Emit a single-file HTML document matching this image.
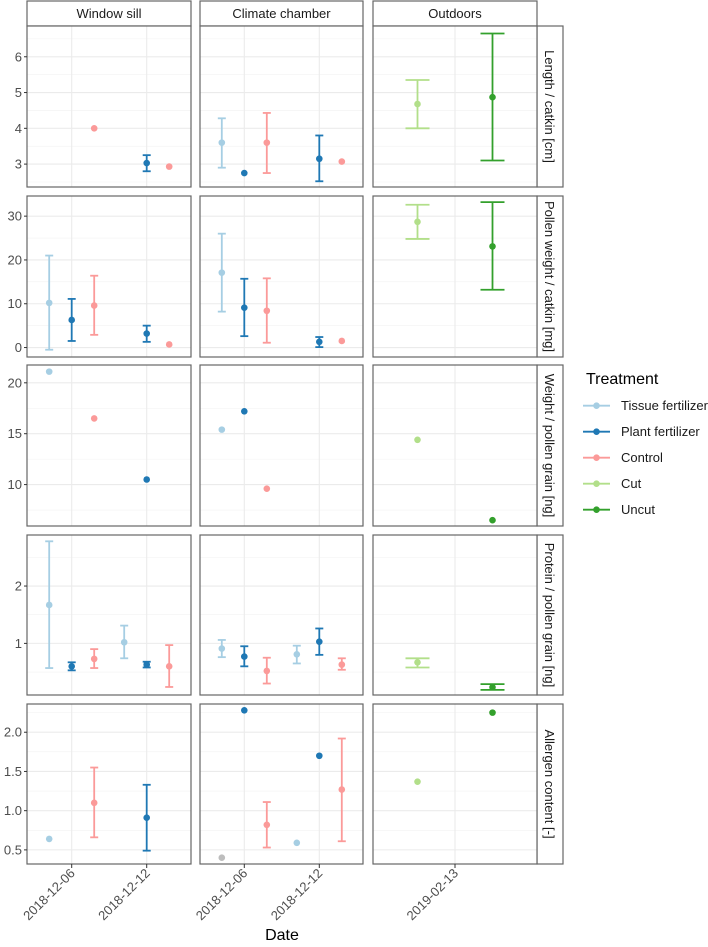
<!DOCTYPE html>
<html><head><meta charset="utf-8">
<style>
html,body{margin:0;padding:0;background:#fff;}
svg{display:block;font-family:"Liberation Sans",Arial,sans-serif;}
</style></head>
<body>
<svg id="chart" width="708" height="947" viewBox="0 0 708 947"></svg>
<script>
// ---- data ----
const sites = ["Window sill", "Climate chamber", "Outdoors"];
const measures = ["Length / catkin [cm]", "Pollen weight / catkin [mg]", "Weight / pollen grain [ng]", "Protein / pollen grain [ng]", "Allergen content [-]"];
const treatments = ["Tissue fertilizer", "Plant fertilizer", "Control", "Cut", "Uncut"];
const treatmentColors = ["#a6cee3", "#1f78b4", "#fb9a99", "#b2df8a", "#33a02c", "#bdbdbd"];
// day offsets from reference date of each site (2018-12-06 / 2019-02-13)
const xTickLabels = [["2018-12-06", "2018-12-12"], ["2018-12-06", "2018-12-12"], ["2019-02-13"]];
const xTickDays = [[0, 6], [0, 6], [0]];
const yTicks = [[3, 4, 5, 6], [0, 10, 20, 30], [10, 15, 20], [1, 2], [0.5, 1.0, 1.5, 2.0]];
const yTickLabels = [["3","4","5","6"], ["0","10","20","30"], ["10","15","20"], ["1","2"], ["0.5","1.0","1.5","2.0"]];
const yDomains = [[2.36, 6.86], [-2.16, 34.6], [5.93, 21.75], [0.1, 2.89], [0.32, 2.36]];
// records: [measure, site, day, treatment index, mean, low, high]
const lengthData = [
  [0,0,1.8,2,4.0,null,null],[0,0,6,1,3.03,2.8,3.25],[0,0,7.8,2,2.93,null,null],
  [0,1,-1.8,0,3.6,2.9,4.28],[0,1,0,1,2.75,null,null],[0,1,1.8,2,3.6,2.75,4.43],[0,1,6,1,3.15,2.52,3.8],[0,1,7.8,2,3.07,null,null],
  [0,2,-3,3,4.68,4.0,5.35],[0,2,3,4,4.87,3.1,6.65]
];
const pollenWeightData = [
  [1,0,-1.8,0,10.2,-0.5,21],[1,0,0,1,6.3,1.5,11.1],[1,0,1.8,2,9.6,2.9,16.4],[1,0,6,1,3.2,1.3,5.0],[1,0,7.8,2,0.7,null,null],
  [1,1,-1.8,0,17.1,8.2,26.0],[1,1,0,1,9.1,2.6,15.7],[1,1,1.8,2,8.4,1.1,15.8],[1,1,6,1,1.3,0.1,2.4],[1,1,7.8,2,1.5,null,null],
  [1,2,-3,3,28.7,24.8,32.6],[1,2,3,4,23.1,13.2,33.2]
];
const grainWeightData = [
  [2,0,-1.8,0,21.1,null,null],[2,0,1.8,2,16.5,null,null],[2,0,6,1,10.5,null,null],
  [2,1,-1.8,0,15.4,null,null],[2,1,0,1,17.2,null,null],[2,1,1.8,2,9.6,null,null],
  [2,2,-3,3,14.4,null,null],[2,2,3,4,6.5,null,null]
];
const proteinData = [
  [3,0,-1.8,0,1.67,0.57,2.78],[3,0,0,1,0.6,0.53,0.67],[3,0,1.8,2,0.73,0.57,0.9],[3,0,4.2,0,1.02,0.74,1.31],[3,0,6,1,0.63,0.58,0.68],[3,0,7.8,2,0.6,0.24,0.97],
  [3,1,-1.8,0,0.91,0.76,1.06],[3,1,0,1,0.77,0.6,0.95],[3,1,1.8,2,0.52,0.3,0.75],[3,1,4.2,0,0.81,0.65,0.96],[3,1,6,1,1.03,0.8,1.26],[3,1,7.8,2,0.63,0.54,0.74],
  [3,2,-3,3,0.67,0.58,0.74],[3,2,3,4,0.235,0.19,0.29]
];
const allergenData = [
  [4,0,-1.8,0,0.64,null,null],[4,0,1.8,2,1.1,0.66,1.55],[4,0,6,1,0.91,0.49,1.33],
  [4,1,-1.8,5,0.4,null,null],[4,1,0,1,2.28,null,null],[4,1,1.8,2,0.82,0.53,1.11],[4,1,4.2,0,0.59,null,null],[4,1,6,1,1.7,null,null],[4,1,7.8,2,1.27,0.61,1.92],
  [4,2,-3,3,1.37,null,null],[4,2,3,4,2.25,null,null]
];

// ---- layout ----
const NS = "http://www.w3.org/2000/svg";
const svg = document.getElementById("chart");
const colX = [[27,191],[200,363],[373,537]];
const colRef = [71.7, 244.3, 455];
const pxPerDay = 12.5;
const rowY = [[26,187],[196,357],[365,526],[535,695],[704,864]];
function xScale(c, d){ return colRef[c] + d*pxPerDay; }
function yScale(r, v){ const [a,b]=yDomains[r]; const [t,bt]=rowY[r]; return bt - (v-a)/(b-a)*(bt-t); }
function mk(tag, attrs, parent){ const e=document.createElementNS(NS,tag); for(const k in attrs) e.setAttribute(k,attrs[k]); (parent||svg).appendChild(e); return e; }

// strips top
sites.forEach((s,c)=>{
  const g = mk("g",{});
  
  
  mk("rect",{x:colX[c][0],y:1,width:colX[c][1]-colX[c][0],height:25,fill:"#fff",stroke:"#666","stroke-width":1.2},g);
  const t = mk("text",{x:(colX[c][0]+colX[c][1])/2,y:18,"text-anchor":"middle","font-size":"13",fill:"#1a1a1a"},g);
  t.textContent = s;
});
// strips right
measures.forEach((m,r)=>{
  const g = mk("g",{});
  
  
  mk("rect",{x:537,y:rowY[r][0],width:26,height:rowY[r][1]-rowY[r][0],fill:"#fff",stroke:"#666","stroke-width":1.2},g);
  const cy=(rowY[r][0]+rowY[r][1])/2;
  const t = mk("text",{x:545,y:cy,"text-anchor":"middle","font-size":"13",fill:"#1a1a1a",transform:`rotate(90 545 ${cy})`},g);
  t.textContent = m;
});

// panels
for(let r=0;r<5;r++){
  const [a,b]=yDomains[r];
  const ts=yTicks[r];
  const step = ts.length>1 ? ts[1]-ts[0] : 1;
  for(let c=0;c<3;c++){
    const g = mk("g",{});
    
    
    const [x0,x1]=colX[c], [y0,y1]=rowY[r];
    mk("rect",{x:x0,y:y0,width:x1-x0,height:y1-y0,fill:"#fff"},g);
    // minor y grid
    for(let v=ts[0]-step*3.5; v<=b; v+=step){ if(v<a) continue; const y=yScale(r,v); mk("line",{x1:x0,x2:x1,y1:y,y2:y,stroke:"#f2f2f2","stroke-width":0.6},g); }
    ts.forEach(v=>{ const y=yScale(r,v); mk("line",{x1:x0,x2:x1,y1:y,y2:y,stroke:"#ebebeb","stroke-width":1.1},g); });
    xTickDays[c].forEach(d=>{ const x=xScale(c,d); mk("line",{x1:x,x2:x,y1:y0,y2:y1,stroke:"#ebebeb","stroke-width":1.1},g); });
    mk("rect",{x:x0,y:y0,width:x1-x0,height:y1-y0,fill:"none",stroke:"#666","stroke-width":1.2},g);
  }
  // y ticks
  ts.forEach((v,i)=>{
    const y=yScale(r,v);
    mk("line",{x1:24,x2:27,y1:y,y2:y,stroke:"#333","stroke-width":1});
    const t=mk("text",{x:22,y:y+4.5,"text-anchor":"end","font-size":"13",fill:"#4d4d4d"});
    
    
    t.textContent=yTickLabels[r][i];
  });
}
// x ticks
for(let c=0;c<3;c++){
  xTickDays[c].forEach((d,i)=>{
    const x=xScale(c,d);
    mk("line",{x1:x,x2:x,y1:864,y2:868,stroke:"#333","stroke-width":1});
    const t=mk("text",{x:x+4,y:874,"text-anchor":"end","font-size":"13",fill:"#4d4d4d",transform:`rotate(-45 ${x+4} 874)`});
    
    
    t.textContent=xTickLabels[c][i];
  });
}
const xt=mk("text",{x:282,y:940,"text-anchor":"middle","font-size":"16",fill:"#000"});


xt.textContent="Date";

// marks
[lengthData,pollenWeightData,grainWeightData,proteinData,allergenData].forEach(ds=>{
  ds.forEach(rec=>{
    const [r,c,d,ti,m,lo,hi]=rec;
    const col=treatmentColors[ti];
    const x=xScale(c,d);
    const cap = c===2 ? 12 : 4;
    if(lo!==null){
      const eb=mk("g",{stroke:col,"stroke-width":1.8,fill:"none"});
      
      
      const yl=yScale(r,lo), yh=yScale(r,hi);
      mk("line",{x1:x,x2:x,y1:yl,y2:yh},eb);
      mk("line",{x1:x-cap,x2:x+cap,y1:yl,y2:yl},eb);
      mk("line",{x1:x-cap,x2:x+cap,y1:yh,y2:yh},eb);
    }
    const p=mk("circle",{cx:x,cy:yScale(r,m),r:3.3,fill:col});
    
    
  });
});

// legend
const lg=mk("g",{});


const lt=mk("text",{x:586,y:384,"font-size":"16",fill:"#000"},lg);
lt.textContent="Treatment";
treatments.forEach((tr,i)=>{
  const y=405.7+i*26;
  const e=mk("g",{},lg);
  
  
  mk("line",{x1:583,x2:610,y1:y,y2:y,stroke:treatmentColors[i],"stroke-width":1.8},e);
  mk("circle",{cx:596.5,cy:y,r:3.3,fill:treatmentColors[i]},e);
  const t=mk("text",{x:621,y:y+4.5,"font-size":"13",fill:"#1a1a1a"},e);
  t.textContent=tr;
});
</script>
</body></html>
